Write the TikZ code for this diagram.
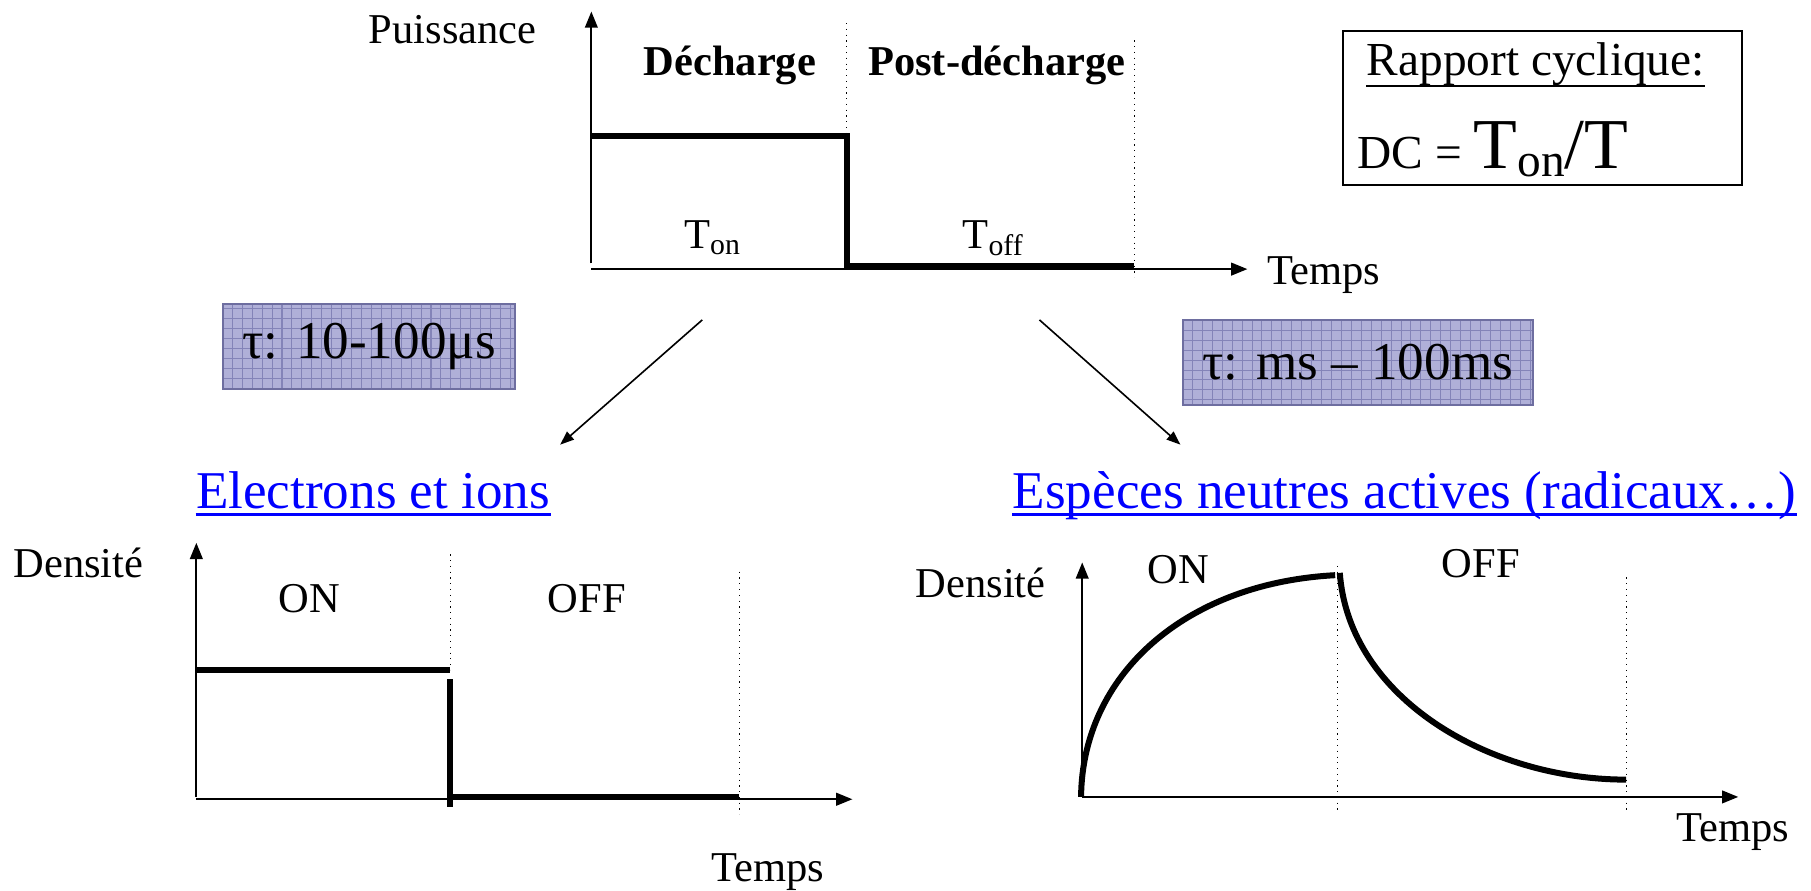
\documentclass[tikz,border=0pt]{standalone}
\usepackage{fontspec}
\setmainfont{Liberation Serif}
\newfontfamily\tnr{Liberation Serif}
\usetikzlibrary{arrows.meta}
\definecolor{taufill}{RGB}{176,176,216}
\definecolor{taugrid}{RGB}{132,132,184}
\definecolor{tauedge}{RGB}{110,110,160}
\definecolor{linkblue}{RGB}{0,0,255}
\begin{document}
\begin{tikzpicture}[x=0.5pt,y=-0.5pt,
  axis/.style={line width=0.8pt,-{Triangle[length=7pt,width=5.5pt]}},
  sig/.style={line width=2.6pt},
  sep/.style={dotted,line width=0.5pt},
  lbl/.style={font=\tnr\fontsize{18.4}{20}\selectfont,inner sep=0pt},
  bold/.style={font=\tnr\fontsize{18.4}{20}\selectfont\bfseries,inner sep=0pt},
  link/.style={font=\tnr\fontsize{23}{26}\selectfont,inner sep=0pt,text=linkblue},
  uline/.style={draw=linkblue,line width=1.3pt},
  flow/.style={line width=0.7pt,-{Triangle[length=6pt,width=4.5pt]}},
  taubox/.style={draw=tauedge,line width=0.8pt,fill=taufill,inner sep=0pt,
    font=\tnr\fontsize{23}{26}\selectfont,
    path picture={\draw[taugrid,line width=0.45pt,step=4.3pt]
      (path picture bounding box.south west) grid (path picture bounding box.north east);}}
]
\useasboundingbox (0,0) rectangle (1568,771);

% ---------- top graph ----------
\coordinate (tO) at (512,233);
\coordinate (tY) at (512,10);
\coordinate (tX) at (1080,233);
\draw[axis] (512,228) -- (tY);
\draw[axis] (tO) -- (tX);
\draw[sep] (733,20) -- (733,118);
\draw[sep] (982,35) -- (982,240);
\draw[sig] (512,118) -- (733,118) -- (733,230) -- (982,230);
\node[lbl,anchor=base] (puis) at (392,38) {Puissance};
\node[bold,anchor=base] (dech) at (632,65) {Décharge};
\node[bold,anchor=base] (post) at (863,65) {Post-décharge};
\node[lbl,anchor=base] (ton) at (617,215) {T\textsubscript{on}};
\node[lbl,anchor=base] (toff) at (860,215) {T\textsubscript{off}};
\node[lbl,anchor=base] (tps1) at (1146,246) {Temps};

% ---------- duty cycle box ----------
\node[draw,line width=0.9pt,minimum width=172.5pt,minimum height=66.5pt,inner sep=0pt] (rc) at (1335.5,93.5) {};
\node[font=\tnr\fontsize{20.5}{22}\selectfont,inner sep=0pt,anchor=base west] (rct) at (1183,65) {Rapport cyclique:};
\draw[line width=1pt] ([yshift=-4.6pt]rct.base west) -- ([yshift=-4.6pt]rct.base east);
\node[font=\tnr\fontsize{20.5}{22}\selectfont,inner sep=0pt,anchor=base west] (dc) at (1175,146)
  {DC = {\fontsize{31}{33}\selectfont T}\raisebox{-0.35ex}{on}{\fontsize{31}{33}\selectfont /T}};

% ---------- time-constant boxes ----------
\node[taubox,minimum width=126.5pt,minimum height=37pt] (tau1) at (319.5,300) {τ: 10-100μs};
\node[taubox,minimum width=151.5pt,minimum height=37pt] (tau2) at (1175.5,314) {τ: ms – 100ms};

% ---------- arrows ----------
\coordinate (a1s) at (608,277);
\coordinate (a1e) at (485,385);
\coordinate (a2s) at (900,277);
\coordinate (a2e) at (1022,385);
\draw[flow] (a1s) -- (a1e);
\draw[flow] (a2s) -- (a2e);

% ---------- titles ----------
\node[link,anchor=base] (elec) at (323,440) {Electrons et ions};
\node[link,anchor=base] (esp) at (1216,440) {Espèces neutres actives (radicaux…)};
\draw[uline] ([yshift=-2.6pt]elec.base west) -- ([yshift=-2.6pt]elec.base east);
\draw[uline] ([yshift=-2.6pt]esp.base west) -- ([yshift=-2.6pt]esp.base east);

% ---------- bottom-left graph ----------
\coordinate (lO) at (170,692);
\draw[axis] (170,690) -- (170,470);
\draw[axis] (lO) -- (738,692);
\draw[sep] (390,480) -- (390,580);
\draw[sep] (640,495) -- (640,705);
\draw[sig] (170,580) -- (390,580);
\draw[sig] (390,588) -- (390,699);
\draw[sig] (390,690) -- (640,690);
\node[lbl,anchor=base] (dens1) at (68,500) {Densité};
\node[lbl,anchor=base] (on1) at (268,530) {ON};
\node[lbl,anchor=base] (off1) at (508,530) {OFF};
\node[lbl,anchor=base] (tps2) at (665,763) {Temps};

% ---------- bottom-right graph ----------
\coordinate (rO) at (937,690);
\draw[axis] (rO) -- (937,487);
\draw[axis] (rO) -- (1505,690);
\draw[sep] (1158,490) -- (1158,702);
\draw[sep] (1408,500) -- (1408,702);
\draw[sig] (936,690) .. controls (937,585) and (1025,505) .. (1156,498);
\draw[sig] (1160,496) .. controls (1168,605) and (1290,675) .. (1408,675);
\node[lbl,anchor=base] (dens2) at (849,517) {Densité};
\node[lbl,anchor=base] (on2) at (1020,505) {ON};
\node[lbl,anchor=base] (off2) at (1282,500) {OFF};
\node[lbl,anchor=base] (tps3) at (1500,729) {Temps};
\end{tikzpicture}
\end{document}
